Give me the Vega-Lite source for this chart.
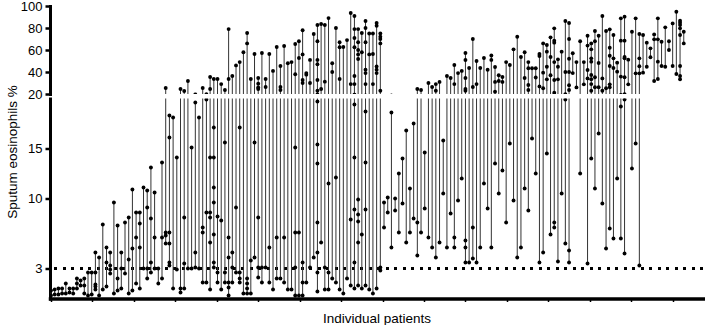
{
"$schema": "https://vega.github.io/schema/vega-lite/v6.json",
"padding": {"left": 5, "top": 0, "right": 0, "bottom": 0},
"background": "white",
"bounds": "flush",
"data": {"values": [
{"p":1,"v":0.3},{"p":1,"v":0.8},{"p":2,"v":0.4},{"p":2,"v":0.9},{"p":3,"v":0.4},{"p":3,"v":1.0},{"p":4,"v":0.5},{"p":4,"v":1.0},{"p":5,"v":0.5},{"p":5,"v":1.5},{"p":6,"v":0.6},{"p":6,"v":1.0},{"p":7,"v":0.5},{"p":7,"v":1.0},{"p":8,"v":1.0},{"p":8,"v":1.5},{"p":8,"v":2.0},{"p":9,"v":1.3},{"p":9,"v":1.8},{"p":10,"v":0.5},{"p":10,"v":1.3},{"p":10,"v":2.0},
{"p":11,"v":0.3},{"p":11,"v":2.6},{"p":12,"v":0.4},{"p":12,"v":2.6},{"p":13,"v":0.9},{"p":13,"v":1.2},{"p":13,"v":1.4},{"p":13,"v":2.6},{"p":13,"v":4.6},{"p":14,"v":0.3},{"p":14,"v":4.1},{"p":15,"v":0.9},{"p":15,"v":7.4},{"p":16,"v":1.2},{"p":16,"v":3.6},{"p":16,"v":5.1},{"p":17,"v":2.5},{"p":17,"v":2.9},{"p":17,"v":3.3},{"p":17,"v":4.6},{"p":18,"v":0.5},{"p":18,"v":9.6},{"p":19,"v":0.8},{"p":19,"v":2.0},{"p":19,"v":7.3},{"p":20,"v":1.0},{"p":20,"v":3.0},{"p":20,"v":4.6},
{"p":21,"v":2.5},{"p":21,"v":7.6},{"p":22,"v":0.5},{"p":22,"v":3.9},{"p":22,"v":8.1},{"p":23,"v":0.8},{"p":23,"v":5.0},{"p":23,"v":10.9},{"p":24,"v":1.5},{"p":24,"v":6.1},{"p":24,"v":8.6},{"p":25,"v":1.0},{"p":25,"v":5.1},{"p":25,"v":7.5},{"p":25,"v":8.6},{"p":26,"v":3.0},{"p":26,"v":11.1},{"p":27,"v":2.0},{"p":27,"v":3.0},{"p":27,"v":9.1},{"p":27,"v":10.8},{"p":28,"v":2.6},{"p":28,"v":3.6},{"p":28,"v":8.0},{"p":28,"v":13.1},{"p":29,"v":3.0},{"p":29,"v":6.1},{"p":29,"v":10.6},{"p":30,"v":1.5},{"p":30,"v":3.0},
{"p":31,"v":2.0},{"p":31,"v":6.1},{"p":31,"v":13.6},{"p":32,"v":5.5},{"p":32,"v":6.3},{"p":32,"v":6.6},{"p":32,"v":25.5},{"p":33,"v":3.3},{"p":33,"v":3.6},{"p":33,"v":5.5},{"p":33,"v":6.6},{"p":33,"v":16.1},{"p":33,"v":18.3},{"p":34,"v":1.0},{"p":34,"v":18.1},{"p":35,"v":2.9},{"p":35,"v":14.1},{"p":36,"v":0.6},{"p":36,"v":1.0},{"p":36,"v":24.5},{"p":37,"v":1.0},{"p":37,"v":3.5},{"p":37,"v":8.1},{"p":37,"v":22.7},{"p":38,"v":3.0},{"p":38,"v":31.8},{"p":39,"v":3.0},{"p":39,"v":15.1},{"p":40,"v":3.1},{"p":40,"v":4.6},{"p":40,"v":19.6},
{"p":41,"v":3.0},{"p":41,"v":18.1},{"p":42,"v":1.6},{"p":42,"v":6.6},{"p":42,"v":7.1},{"p":42,"v":25.5},{"p":43,"v":1.6},{"p":43,"v":8.6},{"p":43,"v":19.9},{"p":44,"v":0.9},{"p":44,"v":5.6},{"p":44,"v":8.1},{"p":44,"v":8.6},{"p":44,"v":14.1},{"p":44,"v":24.5},{"p":44,"v":35.5},{"p":45,"v":3.1},{"p":45,"v":3.6},{"p":45,"v":6.4},{"p":45,"v":9.6},{"p":45,"v":11.1},{"p":45,"v":14.1},{"p":45,"v":17.1},{"p":45,"v":33.6},{"p":46,"v":1.6},{"p":46,"v":2.6},{"p":46,"v":8.2},{"p":46,"v":33.6},{"p":47,"v":0.9},{"p":47,"v":7.8},{"p":47,"v":29},{"p":48,"v":1.6},{"p":48,"v":2.6},{"p":48,"v":15.6},{"p":48,"v":23.6},{"p":49,"v":0.3},{"p":49,"v":1.1},{"p":49,"v":1.6},{"p":49,"v":4.1},{"p":49,"v":6.1},{"p":49,"v":33.6},{"p":49,"v":79},{"p":50,"v":1.6},{"p":50,"v":3.1},{"p":50,"v":4.6},{"p":50,"v":36.4},
{"p":51,"v":2.6},{"p":51,"v":9.1},{"p":51,"v":46},{"p":52,"v":1.6},{"p":52,"v":2.0},{"p":52,"v":2.6},{"p":52,"v":17.1},{"p":52,"v":49},{"p":53,"v":0.5},{"p":53,"v":58},{"p":54,"v":0.5},{"p":54,"v":1.0},{"p":54,"v":1.5},{"p":54,"v":2.0},{"p":54,"v":66},{"p":54,"v":75.5},{"p":55,"v":0.5},{"p":55,"v":3.8},{"p":55,"v":33.6},{"p":56,"v":4.1},{"p":56,"v":15.6},{"p":56,"v":56.4},{"p":57,"v":2.1},{"p":57,"v":3.1},{"p":57,"v":8.1},{"p":57,"v":24.5},{"p":57,"v":26},{"p":57,"v":29.4},{"p":57,"v":34.5},{"p":58,"v":1.6},{"p":58,"v":3.1},{"p":58,"v":57.3},{"p":59,"v":3.1},{"p":59,"v":26.4},{"p":59,"v":33.6},{"p":60,"v":1.6},{"p":60,"v":5.1},{"p":60,"v":56.4},
{"p":61,"v":0.9},{"p":61,"v":41},{"p":62,"v":2.0},{"p":62,"v":6.1},{"p":62,"v":62.7},{"p":63,"v":2.0},{"p":63,"v":23.6},{"p":63,"v":26.4},{"p":63,"v":45.5},{"p":64,"v":1.6},{"p":64,"v":6.1},{"p":64,"v":63.6},{"p":65,"v":0.9},{"p":65,"v":48},{"p":66,"v":0.9},{"p":66,"v":49},{"p":67,"v":0.3},{"p":67,"v":3.1},{"p":67,"v":6.6},{"p":67,"v":15.1},{"p":67,"v":38},{"p":67,"v":65.5},{"p":68,"v":0.3},{"p":68,"v":6.6},{"p":68,"v":52.7},{"p":68,"v":68},{"p":69,"v":0.3},{"p":69,"v":1.6},{"p":69,"v":3.6},{"p":69,"v":30},{"p":69,"v":32.7},{"p":69,"v":56},{"p":69,"v":78},{"p":70,"v":1.6},{"p":70,"v":37.6},{"p":70,"v":39},
{"p":71,"v":3.1},{"p":71,"v":30},{"p":71,"v":51},{"p":72,"v":4.1},{"p":72,"v":74.5},{"p":73,"v":0.7},{"p":73,"v":2.6},{"p":73,"v":4.6},{"p":73,"v":7.6},{"p":73,"v":13.5},{"p":73,"v":15.4},{"p":73,"v":19.7},{"p":73,"v":23},{"p":73,"v":32.7},{"p":73,"v":47},{"p":73,"v":51},{"p":73,"v":68},{"p":73,"v":82.7},{"p":74,"v":5.6},{"p":74,"v":24.5},{"p":74,"v":83.6},{"p":75,"v":0.9},{"p":75,"v":3.1},{"p":75,"v":31.2},{"p":75,"v":82.7},{"p":76,"v":0.9},{"p":76,"v":2.6},{"p":76,"v":11.5},{"p":76,"v":89},{"p":77,"v":2.0},{"p":77,"v":40},{"p":77,"v":48},{"p":78,"v":1.6},{"p":78,"v":12.1},{"p":78,"v":80},{"p":79,"v":0.9},{"p":79,"v":33.6},{"p":79,"v":62.5},{"p":79,"v":67},{"p":80,"v":0.5},{"p":80,"v":62.7},
{"p":81,"v":2.0},{"p":81,"v":69},{"p":82,"v":1.3},{"p":82,"v":7.9},{"p":82,"v":29},{"p":82,"v":93.6},{"p":83,"v":1.0},{"p":83,"v":3.6},{"p":83,"v":8.9},{"p":83,"v":14.1},{"p":83,"v":19.4},{"p":83,"v":29},{"p":83,"v":36.4},{"p":83,"v":62.5},{"p":83,"v":70.9},{"p":83,"v":79},{"p":83,"v":90.9},{"p":84,"v":1.3},{"p":84,"v":5.6},{"p":84,"v":7.7},{"p":84,"v":8.4},{"p":84,"v":9.9},{"p":84,"v":51.8},{"p":84,"v":56},{"p":84,"v":60},{"p":84,"v":67},{"p":84,"v":79},{"p":85,"v":1.0},{"p":85,"v":6.4},{"p":85,"v":58},{"p":85,"v":75.5},{"p":86,"v":1.3},{"p":86,"v":8.9},{"p":86,"v":13.6},{"p":86,"v":18.7},{"p":86,"v":29},{"p":86,"v":39},{"p":86,"v":42},{"p":86,"v":67},{"p":86,"v":80},{"p":86,"v":86.4},{"p":87,"v":0.9},{"p":87,"v":56},{"p":87,"v":75},{"p":88,"v":0.5},{"p":88,"v":29},{"p":88,"v":56.4},{"p":88,"v":75},{"p":89,"v":1.0},{"p":89,"v":39},{"p":89,"v":42},{"p":89,"v":45},{"p":89,"v":82},{"p":89,"v":84.5},{"p":90,"v":2.8},{"p":90,"v":3.1},{"p":90,"v":23},{"p":90,"v":66},{"p":90,"v":70},{"p":90,"v":72},{"p":90,"v":75},
{"p":91,"v":7.1},{"p":91,"v":9.6},{"p":92,"v":8.6},{"p":92,"v":10.1},{"p":93,"v":5.1},{"p":93,"v":18.6},{"p":94,"v":8.8},{"p":94,"v":10.0},{"p":95,"v":6.6},{"p":95,"v":12.5},{"p":96,"v":9.5},{"p":96,"v":14.0},{"p":97,"v":5.6},{"p":97,"v":16.8},{"p":98,"v":6.6},{"p":98,"v":11.0},{"p":99,"v":8.0},{"p":99,"v":17.5},{"p":100,"v":4.3},{"p":100,"v":7.6},{"p":100,"v":24.5},
{"p":101,"v":6.6},{"p":101,"v":23.6},{"p":102,"v":9.0},{"p":102,"v":14.6},{"p":103,"v":6.1},{"p":103,"v":30},{"p":104,"v":5.1},{"p":104,"v":26.4},{"p":105,"v":4.1},{"p":105,"v":23},{"p":105,"v":29},{"p":106,"v":5.6},{"p":106,"v":31},{"p":107,"v":10.5},{"p":107,"v":15.8},{"p":108,"v":5.1},{"p":108,"v":36.4},{"p":109,"v":8.5},{"p":109,"v":34.5},{"p":110,"v":5.1},{"p":110,"v":6.1},{"p":110,"v":29},{"p":110,"v":46.4},
{"p":111,"v":9.8},{"p":111,"v":39},{"p":112,"v":12.0},{"p":112,"v":41},{"p":113,"v":3.6},{"p":113,"v":5.1},{"p":113,"v":5.8},{"p":113,"v":23},{"p":113,"v":24.5},{"p":113,"v":34.5},{"p":113,"v":50.9},{"p":113,"v":57.3},{"p":114,"v":3.6},{"p":114,"v":43.6},{"p":115,"v":4.0},{"p":115,"v":7.1},{"p":115,"v":26.4},{"p":115,"v":70},{"p":116,"v":3.6},{"p":116,"v":29},{"p":116,"v":50},{"p":117,"v":5.1},{"p":117,"v":43.6},{"p":118,"v":11.5},{"p":118,"v":52.7},{"p":119,"v":9.0},{"p":119,"v":42},{"p":120,"v":5.1},{"p":120,"v":51},{"p":120,"v":55},
{"p":121,"v":13.5},{"p":121,"v":22},{"p":121,"v":31},{"p":121,"v":44.5},{"p":122,"v":10.5},{"p":122,"v":31.8},{"p":122,"v":37},{"p":123,"v":12.8},{"p":123,"v":31},{"p":123,"v":35.5},{"p":124,"v":7.6},{"p":124,"v":49},{"p":125,"v":15.5},{"p":125,"v":46.4},{"p":126,"v":9.8},{"p":126,"v":60.6},{"p":127,"v":4.1},{"p":127,"v":72},{"p":128,"v":5.1},{"p":128,"v":53.6},{"p":129,"v":11.0},{"p":129,"v":34.5},{"p":129,"v":58},{"p":130,"v":8.8},{"p":130,"v":23.6},{"p":130,"v":28.2},{"p":130,"v":43.4},{"p":130,"v":49},
{"p":131,"v":16.0},{"p":131,"v":43.4},{"p":132,"v":12.5},{"p":132,"v":35},{"p":132,"v":43.4},{"p":133,"v":3.6},{"p":133,"v":26.9},{"p":133,"v":54.5},{"p":133,"v":56.4},{"p":134,"v":4.6},{"p":134,"v":25.2},{"p":134,"v":39.4},{"p":134,"v":66},{"p":135,"v":14.5},{"p":135,"v":33.3},{"p":135,"v":44.8},{"p":135,"v":58.5},{"p":135,"v":64.5},{"p":136,"v":6.4},{"p":136,"v":37},{"p":136,"v":53.6},{"p":136,"v":71.5},{"p":137,"v":7.1},{"p":137,"v":7.6},{"p":137,"v":21.2},{"p":137,"v":32.7},{"p":137,"v":49},{"p":137,"v":66.7},{"p":137,"v":68.5},{"p":137,"v":79.7},{"p":138,"v":3.7},{"p":138,"v":33.3},{"p":138,"v":44.8},{"p":138,"v":51.5},{"p":139,"v":10.5},{"p":139,"v":58.5},{"p":140,"v":5.5},{"p":140,"v":19.9},{"p":140,"v":40},{"p":140,"v":86.4},
{"p":141,"v":3.6},{"p":141,"v":4.8},{"p":141,"v":23.6},{"p":141,"v":28},{"p":141,"v":40},{"p":141,"v":52},{"p":141,"v":70},{"p":141,"v":84.5},{"p":142,"v":39},{"p":142,"v":57},{"p":143,"v":26},{"p":143,"v":49},{"p":144,"v":12.5},{"p":144,"v":68},{"p":145,"v":28.8},{"p":145,"v":49},{"p":146,"v":3.5},{"p":146,"v":34.2},{"p":146,"v":41.8},{"p":146,"v":64},{"p":146,"v":73},{"p":147,"v":14.0},{"p":147,"v":23},{"p":147,"v":29},{"p":147,"v":33.4},{"p":147,"v":37.3},{"p":147,"v":49.4},{"p":147,"v":52.4},{"p":147,"v":60.6},{"p":147,"v":66},{"p":148,"v":11.0},{"p":148,"v":26.1},{"p":148,"v":35.2},{"p":148,"v":68},{"p":148,"v":77.3},{"p":149,"v":16.5},{"p":149,"v":26.1},{"p":149,"v":48.2},{"p":149,"v":73},{"p":150,"v":9.5},{"p":150,"v":23},{"p":150,"v":34.2},{"p":150,"v":90.9},
{"p":151,"v":5.0},{"p":151,"v":25.2},{"p":151,"v":77.3},{"p":152,"v":7.0},{"p":152,"v":26.1},{"p":152,"v":28.8},{"p":152,"v":45.5},{"p":152,"v":54.8},{"p":152,"v":62},{"p":152,"v":78.8},{"p":153,"v":6.0},{"p":153,"v":43.6},{"p":153,"v":52.4},{"p":153,"v":73.6},{"p":154,"v":12.0},{"p":154,"v":40.3},{"p":154,"v":48.5},{"p":155,"v":6.0},{"p":155,"v":19.2},{"p":155,"v":35.8},{"p":155,"v":68.5},{"p":155,"v":88.8},{"p":156,"v":4.5},{"p":156,"v":19.9},{"p":156,"v":35.2},{"p":156,"v":52.4},{"p":156,"v":53.6},{"p":156,"v":68.5},{"p":156,"v":90.3},{"p":157,"v":28.8},{"p":157,"v":51.2},{"p":158,"v":13.0},{"p":158,"v":76.6},{"p":159,"v":15.5},{"p":159,"v":38.8},{"p":159,"v":88.8},{"p":160,"v":3.3},{"p":160,"v":38.8},{"p":160,"v":45.2},{"p":160,"v":52.4},{"p":160,"v":74.5},
{"p":161,"v":39.4},{"p":161,"v":73.6},{"p":162,"v":44.8},{"p":162,"v":66.7},{"p":163,"v":53.4},{"p":163,"v":61.5},{"p":164,"v":31.8},{"p":164,"v":69.7},{"p":164,"v":74.2},{"p":165,"v":33.6},{"p":165,"v":49.4},{"p":165,"v":69.7},{"p":165,"v":88.8},{"p":166,"v":45.5},{"p":166,"v":67.5},{"p":167,"v":44.8},{"p":167,"v":80.6},{"p":168,"v":60},{"p":168,"v":68},{"p":169,"v":45.5},{"p":169,"v":84.2},{"p":170,"v":38.2},{"p":170,"v":94.8},{"p":171,"v":33.4},{"p":171,"v":36.4},{"p":171,"v":45.5},{"p":171,"v":73.6},{"p":171,"v":79.7},{"p":171,"v":82.7},{"p":171,"v":84.8},{"p":171,"v":86.6},{"p":172,"v":66},{"p":172,"v":76.6}
]},
"spacing": 4.5,
"resolve": {"scale": {"y": "independent"}},
"vconcat": [
{
"width": 653, "height": 88,
"layer": [
{"mark": {"type": "rule", "color": "#333333", "strokeWidth": 1, "clip": true},
 "encoding": {
  "x": {"field": "p", "type": "quantitative", "scale": {"domain": [0.73, 177.2], "nice": false, "zero": false}, "axis": null},
  "y": {"aggregate": "min", "field": "v", "type": "quantitative", "scale": {"domain": [20, 100], "nice": false, "zero": false}, "axis": {"values": [20, 40, 60, 80, 100], "title": null, "labelOverlap": false, "labelSeparation": 0}},
  "y2": {"aggregate": "max", "field": "v"}
 }},
{"mark": {"type": "circle", "color": "black", "size": 15, "opacity": 1, "clip": true},
 "encoding": {
  "x": {"field": "p", "type": "quantitative", "axis": null},
  "y": {"field": "v", "type": "quantitative", "axis": {"values": [20, 40, 60, 80, 100], "title": null, "labelOverlap": false, "labelSeparation": 0}}
 }}
]
},
{
"width": 653, "height": 200,
"layer": [
{"mark": {"type": "rule", "color": "black", "strokeWidth": 2.2, "strokeDash": [2.2, 6.3]},
 "encoding": {"y": {"datum": 3}}},
{"mark": {"type": "rule", "color": "#333333", "strokeWidth": 1, "clip": true},
 "encoding": {
  "x": {"field": "p", "type": "quantitative", "scale": {"domain": [0.73, 177.2], "nice": false, "zero": false},
   "axis": {"title": "Individual patients", "labels": false, "tickSize": 3, "tickWidth": 1.5, "domainWidth": 3.5, "titlePadding": 9,
    "values": [1,1.7,2.4,3.1,3.8,4.5,5.2,5.9,6.6,7.3,8,8.7,9.4,10.1,10.8,11.5,12.2,12.9,13.6,14.3,15,15.7,16.4,17.1,17.8,18.5,19.2,19.9,20.6,21.3,22,22.7,23.4,24.1,24.8,25.5,26.2,26.9,27.6,28.3,29,29.7,30.4,31.1,31.8,32.5,33.2,33.9,34.6,35.3,36,36.7,37.4,38.1,38.8,39.5,40.2,40.9,41.6,42.3,43,43.7,44.4,45.1,45.8,46.5,47.2,47.9,48.6,49.3,50,50.7,51.4,52.1,52.8,53.5,54.2,54.9,55.6,56.3,57,57.7,58.4,59.1,59.8,60.5,61.2,61.9,62.6,63.3,64,64.7,65.4,66.1,66.8,67.5,68.2,68.9,69.6,70.3,71,71.7,72.4,73.1,73.8,74.5,75.2,75.9,76.6,77.3,78,78.7,79.4,80.1,80.8,81.5,82.2,82.9,83.6,84.3,85,85.7,86.4,87.1,87.8,88.5,89.2,89.9,90.6,91.3,92,92.7,93.4,94.1,94.8,95.5,96.2,96.9,97.6,98.3,99,99.7,100.4,101.1,101.8,102.5,103.2,103.9,104.6,105.3,106,106.7,107.4,108.1,108.8,109.5,110.2,110.9,111.6,112.3,113,113.7,114.4,115.1,115.8,116.5,117.2,117.9,118.6,119.3,120,120.7,121.4,122.1,122.8,123.5,124.2,124.9,125.6,126.3,127,127.7,128.4,129.1,129.8,130.5,131.2,131.9,132.6,133.3,134,134.7,135.4,136.1,136.8,137.5,138.2,138.9,139.6,140.3,141,141.7,142.4,143.1,143.8,144.5,145.2,145.9,146.6,147.3,148,148.7,149.4,150.1,150.8,151.5,152.2,152.9,153.6,154.3,155,155.7,156.4,157.1,157.8,158.5,159.2,159.9,160.6,161.3,162,162.7,163.4,164.1,164.8,165.5,166.2,166.9,167.6,168.3,169,169.7,170.4,171.1,171.8,172.5]}},
  "y": {"aggregate": "min", "field": "v", "type": "quantitative", "scale": {"domain": [0, 20], "nice": false, "zero": false},
   "axis": {"values": [3, 10, 15], "title": "Sputum eosinophils %", "titleY": 53, "titlePadding": 8, "labelOverlap": false}},
  "y2": {"aggregate": "max", "field": "v"}
 }},
{"mark": {"type": "circle", "color": "black", "size": 15, "opacity": 1, "clip": true},
 "encoding": {
  "x": {"field": "p", "type": "quantitative"},
  "y": {"field": "v", "type": "quantitative"}
 }}
]
}
],
"config": {
 "view": {"stroke": null},
 "axis": {"domainColor": "black", "domainWidth": 3, "domainCap": "square", "tickColor": "black", "tickWidth": 2.5, "tickSize": 5, "grid": false, "labelOverlap": false,
  "labelFont": "Liberation Sans", "labelFontSize": 13, "labelColor": "black", "labelPadding": 3,
  "titleFont": "Liberation Sans", "titleFontSize": 13.5, "titleFontWeight": "normal", "titleColor": "black"}
}
}
